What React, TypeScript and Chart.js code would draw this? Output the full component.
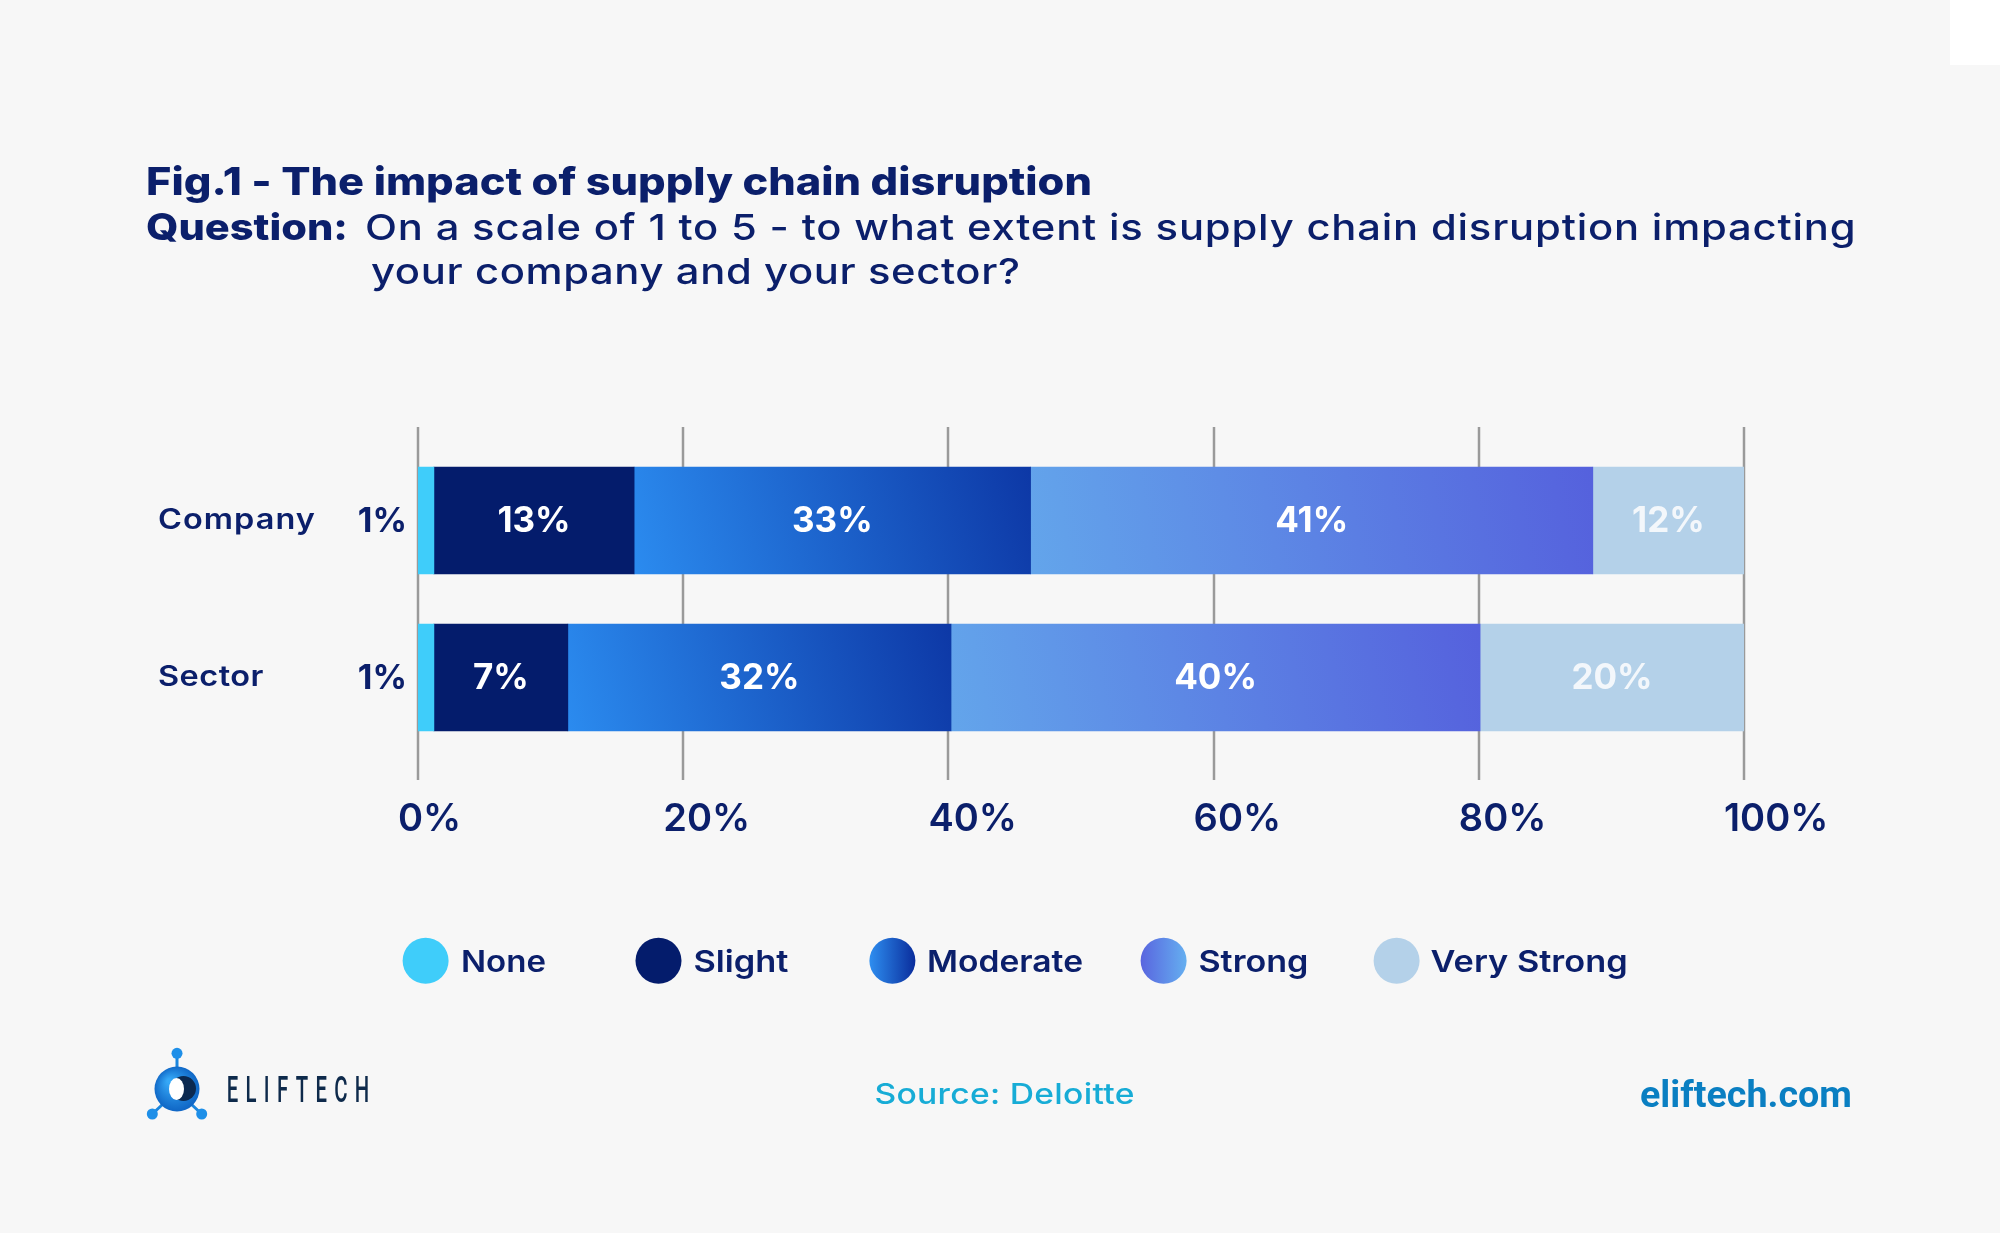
import React, { useEffect, useRef } from 'react';
import { Chart, registerables } from 'chart.js';

Chart.register(...registerables);

// ---------- data ----------
const categories = ['Company', 'Sector'];
const seriesNames = ['None', 'Slight', 'Moderate', 'Strong', 'Very Strong'];

// bar lengths as drawn in the figure (percent of the 0-100 axis)
const noneValues = [1.2, 1.2];
const slightValues = [15.1, 10.1];
const moderateValues = [29.9, 28.9];
const strongValues = [42.4, 39.9];
const veryStrongValues = [11.4, 19.9];

// percentages printed on the bars
const noneLabels = ['1%', '1%'];
const slightLabels = ['13%', '7%'];
const moderateLabels = ['33%', '32%'];
const strongLabels = ['41%', '40%'];
const veryStrongLabels = ['12%', '20%'];

const xTickLabels = ['0%', '20%', '40%', '60%', '80%', '100%'];

const titleText = 'Fig.1 - The impact of supply chain disruption';
const questionLead = 'Question:';
const questionLine1 = 'On a scale of 1 to 5 - to what extent is supply chain disruption impacting';
const questionLine2 = 'your company and your sector?';
const sourceText = 'Source: Deloitte';
const siteText = 'eliftech.com';
const brandText = 'ELIFTECH';

const seriesValues = [noneValues, slightValues, moderateValues, strongValues, veryStrongValues];
const seriesLabels = [noneLabels, slightLabels, moderateLabels, strongLabels, veryStrongLabels];

// ---------- styles ----------
const NAVY = '#0b1f6b';
const BG = '#f7f7f7';
const BAR_H = 107;
const solidColors = ['#3fcdfa', '#041c6c', '#1f63d0', '#5c82e4', '#b4d1e9'];
const barGradients: (string[] | null)[] = [null, null, ['#2b8bef', '#0d38a6'], ['#63a5eb', '#5561dd'], null];
const legendGradients: (string[] | null)[] = [null, null, ['#2e8ef0', '#0a2d9c'], ['#5965df', '#65aff0'], null];
const legendCircleX = [425.6, 658.5, 892.4, 1163.6, 1396.6];
const legendTextX = [461, 693.4, 927, 1198.4, 1430.6];
const legendTextW = [85, 95, 156, 110, 197];

function fitText(
  ctx: CanvasRenderingContext2D,
  text: string,
  x: number,
  y: number,
  font: string,
  width: number,
  color: string,
  maxStretch = 1.16,
) {
  ctx.save();
  ctx.font = font;
  ctx.fillStyle = color;
  ctx.textBaseline = 'alphabetic';
  ctx.textAlign = 'left';
  (ctx as any).letterSpacing = '0px';
  const w = ctx.measureText(text).width;
  const n = text.length;
  const ratio = width / w;
  const s = Math.max(0.9, Math.min(maxStretch, ratio));
  const ls = n > 1 ? (width / s - w) / (n - 1) : 0;
  (ctx as any).letterSpacing = ls.toFixed(2) + 'px';
  ctx.translate(x, y);
  ctx.scale(s, 1);
  ctx.fillText(text, 0, 0);
  ctx.restore();
}

function barFill(c: any, k: number) {
  const stops = barGradients[k];
  if (!stops || c.type !== 'data') return solidColors[k];
  const chart = c.chart;
  const { chartArea, scales } = chart;
  if (!chartArea || !scales.x || !scales.y) return solidColors[k];
  const i = c.dataIndex;
  let start = 0;
  for (let j = 0; j < k; j++) start += seriesValues[j][i];
  const end = start + seriesValues[k][i];
  const x0 = scales.x.getPixelForValue(start);
  const x1 = scales.x.getPixelForValue(end);
  const yc = scales.y.getPixelForValue(i);
  const g = chart.ctx.createLinearGradient(x0, yc + BAR_H / 2, x1, yc - BAR_H / 2);
  g.addColorStop(0, stops[0]);
  g.addColorStop(1, stops[1]);
  return g;
}

const bgPlugin = {
  id: 'bg',
  beforeDraw(chart: any) {
    const ctx = chart.ctx;
    ctx.save();
    ctx.fillStyle = BG;
    ctx.fillRect(0, 0, chart.width, chart.height);
    ctx.fillStyle = '#ffffff';
    ctx.fillRect(1950, 0, 50, 65);
    ctx.restore();
  },
};

const gridPlugin = {
  id: 'extgrid',
  beforeDatasetsDraw(chart: any) {
    const { ctx, chartArea, scales } = chart;
    const xs = scales.x;
    ctx.save();
    ctx.strokeStyle = '#9a9a9a';
    ctx.lineWidth = 2.5;
    xs.ticks.forEach((t: any) => {
      const x = Math.round(xs.getPixelForValue(t.value));
      ctx.beginPath();
      ctx.moveTo(x, chartArea.top - 15);
      ctx.lineTo(x, chartArea.bottom + 24);
      ctx.stroke();
    });
    ctx.restore();
  },
};

const valueLabelPlugin = {
  id: 'valuelabels',
  afterDatasetsDraw(chart: any) {
    const ctx = chart.ctx;
    ctx.save();
    ctx.textBaseline = 'middle';
    chart.data.datasets.forEach((ds: any, k: number) => {
      const meta = chart.getDatasetMeta(k);
      meta.data.forEach((el: any, i: number) => {
        const text = seriesLabels[k][i];
        if (k === 0) {
          ctx.font = '700 34px Inter';
          ctx.fillStyle = NAVY;
          ctx.textAlign = 'right';
          ctx.fillText(text, Math.min(el.base, el.x) - 11, el.y + 1);
        } else {
          ctx.font = '700 35px Inter';
          ctx.fillStyle = k === 4 ? '#f3f7fb' : '#ffffff';
          ctx.textAlign = 'center';
          ctx.fillText(text, (el.base + el.x) / 2, el.y + 1);
        }
      });
    });
    ctx.restore();
  },
};

function drawLogo(ctx: CanvasRenderingContext2D) {
  const cx = 177;
  const cy = 1089;
  ctx.save();
  ctx.strokeStyle = '#1b86de';
  ctx.lineWidth = 3;
  ctx.beginPath();
  ctx.moveTo(cx, 1053);
  ctx.lineTo(cx, 1070);
  ctx.moveTo(cx - 14, 1104);
  ctx.lineTo(152.3, 1114);
  ctx.moveTo(cx + 14, 1104);
  ctx.lineTo(201.7, 1114);
  ctx.stroke();
  ctx.fillStyle = '#1e8fe8';
  [[cx, 1053.3], [152.3, 1114], [201.7, 1114]].forEach(([x, y]) => {
    ctx.beginPath();
    ctx.arc(x, y, 5.5, 0, Math.PI * 2);
    ctx.fill();
  });
  const rg = ctx.createRadialGradient(cx - 8, cy - 8, 2, cx, cy, 24);
  rg.addColorStop(0, '#35a8f7');
  rg.addColorStop(1, '#0d62c2');
  ctx.fillStyle = rg;
  ctx.beginPath();
  ctx.arc(cx, cy, 22.5, 0, Math.PI * 2);
  ctx.fill();
  ctx.fillStyle = '#0b2950';
  ctx.beginPath();
  ctx.ellipse(183.5, 1088.5, 12.5, 12.5, 0, 0, Math.PI * 2);
  ctx.fill();
  ctx.fillStyle = '#ffffff';
  ctx.beginPath();
  ctx.ellipse(176.5, 1089, 7.5, 11, 0, 0, Math.PI * 2);
  ctx.fill();
  ctx.restore();
}

const decorPlugin = {
  id: 'decor',
  afterDraw(chart: any) {
    const ctx: CanvasRenderingContext2D = chart.ctx;
    const ys = chart.scales.y;

    // titles
    fitText(ctx, titleText, 146, 195, '800 38px Inter', 946, NAVY);
    fitText(ctx, questionLead, 146, 239.5, '800 37px Inter', 202, NAVY);
    fitText(ctx, questionLine1, 365, 239.5, '500 36px Inter', 1491, NAVY);
    fitText(ctx, questionLine2, 371, 283.5, '500 36px Inter', 649, NAVY);

    // category labels
    const catW = [157, 105.5];
    categories.forEach((c, i) => {
      const y = ys.getPixelForValue(i);
      fitText(ctx, c, 158, y + 8.5, '600 28px Inter', catW[i], NAVY);
    });

    // legend
    seriesNames.forEach((name, k) => {
      const cx = legendCircleX[k];
      const cy = 960.7;
      const stops = legendGradients[k];
      if (stops) {
        const g = ctx.createLinearGradient(cx - 23, cy, cx + 23, cy);
        g.addColorStop(0, stops[0]);
        g.addColorStop(1, stops[1]);
        ctx.fillStyle = g;
      } else {
        ctx.fillStyle = solidColors[k];
      }
      ctx.beginPath();
      ctx.arc(cx, cy, 23, 0, Math.PI * 2);
      ctx.fill();
      fitText(ctx, name, legendTextX[k], 971.7, '600 30px Inter', legendTextW[k], NAVY);
    });

    // footer
    drawLogo(ctx);
    ctx.save();
    ctx.translate(226.7, 1102.3);
    ctx.scale(0.55, 1);
    fitText(ctx, brandText, 0, 0, '500 37px Roboto', 142.6 / 0.55, '#0e2a4b', 1);
    ctx.restore();
    fitText(ctx, sourceText, 874.4, 1104, '500 29px Inter', 260, '#17acd6');
    fitText(ctx, siteText, 1640, 1106.7, '700 36px Roboto', 212, '#0a7fc2');
  },
};

export default function App() {
  const ref = useRef<HTMLCanvasElement>(null);

  useEffect(() => {
    document.body.style.margin = '0';
    const canvas = ref.current;
    if (!canvas) return;
    const chart = new Chart(canvas, {
      type: 'bar',
      data: {
        labels: categories,
        datasets: seriesValues.map((vals, k) => ({
          label: seriesNames[k],
          data: vals,
          backgroundColor: (c: any) => barFill(c, k),
          borderWidth: 0,
          barThickness: BAR_H,
          stack: 'all',
        })),
      },
      options: {
        indexAxis: 'y',
        responsive: false,
        animation: false,
        events: [],
        layout: { padding: { left: 418, right: 256, top: 442, bottom: 397 } },
        scales: {
          x: {
            stacked: true,
            min: 0,
            max: 100,
            afterFit: (s: any) => {
              s.height = 80;
            },
            grid: { display: false, drawTicks: false },
            border: { display: false },
            ticks: {
              stepSize: 20,
              callback: (_v: any, i: number) => xTickLabels[i],
              align: 'start',
              labelOffset: -20,
              padding: 41,
              color: NAVY,
              font: { family: 'Inter', size: 38, weight: '600' },
            },
          },
          y: {
            stacked: true,
            display: false,
          },
        },
        plugins: {
          legend: { display: false },
          tooltip: { enabled: false },
        },
      } as any,
      plugins: [bgPlugin, gridPlugin, valueLabelPlugin, decorPlugin],
    });
    return () => chart.destroy();
  }, []);

  return (
    <div style={{ width: 2000, height: 1233, position: 'relative', overflow: 'hidden' }}>
      <canvas ref={ref} width={2000} height={1233} style={{ display: 'block', width: 2000, height: 1233 }} />
    </div>
  );
}
